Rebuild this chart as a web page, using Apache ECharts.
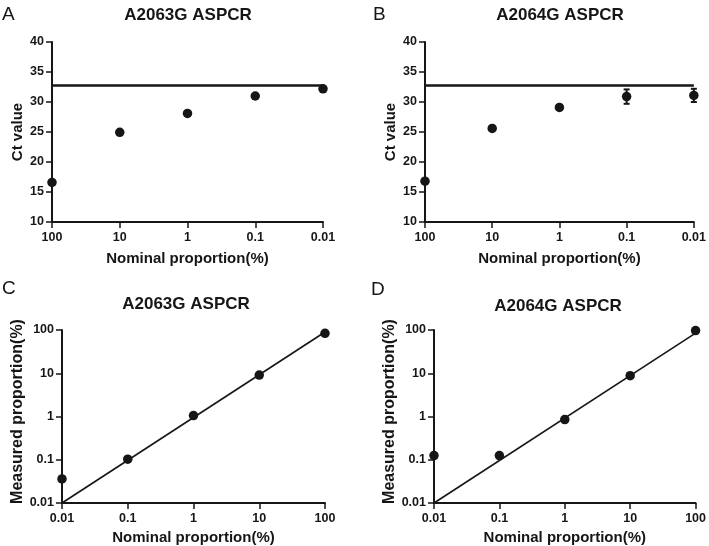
<!DOCTYPE html>
<html>
<head>
<meta charset="utf-8">
<script src="https://cdn.jsdelivr.net/npm/echarts@6/dist/echarts.min.js"></script>
<style>html,body{margin:0;padding:0;background:#fff}#c{width:709px;height:546px}</style>
</head>
<body>
<div id="c"></div>
<script>
// ---- data ----
var logTickLabels = ['0.01', '0.1', '1', '10', '100'];
var nominal = [100, 10, 1, 0.1, 0.01];
var ctA = [16.6, 24.95, 28.1, 31.0, 32.2];
var ctB = [16.8, 25.6, 29.1, 30.9, 31.1];
var ctBErr = [0, 0, 0, 1.2, 1.1];
var cutoffA = 32.75;
var cutoffB = 32.75;
var nominalC = [0.01, 0.1, 1, 10, 100];
var measuredC = [0.036, 0.103, 1.05, 9.1, 84];
var measuredD = [0.125, 0.125, 0.85, 8.8, 97];
var fitC = [[0.01, 0.01], [100, 90]];
var fitD = [[0.01, 0.01], [100, 85]];
var panelLetters = ['A', 'B', 'C', 'D'];
var panelTitles = ['A2063G ASPCR', 'A2064G ASPCR', 'A2063G ASPCR', 'A2064G ASPCR'];
var xName = 'Nominal proportion(%)';
var yNameTop = 'Ct value';
var yNameBottom = 'Measured proportion(%)';

var FONT = '"Liberation Sans", Arial, Helvetica, sans-serif';
var INK = '#161616';

function logFmt(v) { return logTickLabels[Math.round(Math.log10(v)) + 2]; }

function axisCommon() {
  return {
    axisLine: { show: true, lineStyle: { color: INK, width: 2 } },
    axisTick: { show: true, inside: false, length: 6, lineStyle: { color: INK, width: 1.5 } },
    splitLine: { show: false },
    nameTextStyle: { fontFamily: FONT, fontWeight: 'bold', fontSize: 15, color: INK },
    axisLabel: { fontFamily: FONT, fontWeight: 'bold', fontSize: 12.5, color: INK, margin: 8 }
  };
}
function merge(a, b) { for (var k in b) a[k] = b[k]; return a; }

function zip(xs, ys) { return xs.map(function (x, i) { return [x, ys[i]]; }); }

var grids = [
  { left: 52, top: 42, width: 271, height: 180 },
  { left: 425, top: 42, width: 272, height: 180 },
  { left: 62, top: 330, width: 263, height: 174 },
  { left: 434, top: 330, width: 263, height: 174 }
];

var xAxes = [], yAxes = [];
// top panels
[0, 1].forEach(function (i) {
  var xa = merge(axisCommon(), {
    type: 'log', logBase: 10, min: 0.01, max: 100, inverse: true, gridIndex: i,
    name: xName, nameLocation: 'middle', nameGap: 29
  });
  xa.axisLabel.formatter = logFmt;
  xa.axisLabel.margin = 9;
  xAxes.push(xa);
  var ya = merge(axisCommon(), {
    type: 'value', min: 10, max: 40, interval: 5, gridIndex: i,
    name: yNameTop, nameLocation: 'middle', nameGap: 27
  });
  yAxes.push(ya);
});
// bottom panels
[2, 3].forEach(function (i) {
  var xa = merge(axisCommon(), {
    type: 'log', logBase: 10, min: 0.01, max: 100, gridIndex: i,
    name: xName, nameLocation: 'middle', nameGap: 27
  });
  xa.axisLabel.formatter = logFmt;
  xa.axisLabel.margin = 9;
  xAxes.push(xa);
  var ya = merge(axisCommon(), {
    type: 'log', logBase: 10, min: 0.01, max: 100, gridIndex: i,
    name: yNameBottom, nameLocation: 'middle', nameGap: 36
  });
  ya.nameTextStyle.fontSize = 16;
  ya.nameTextStyle.padding = [0, 0, 0, 10];
  ya.axisLabel.formatter = logFmt;
  yAxes.push(ya);
});

var titlePos = [
  { x: 188, y: 7 }, { x: 560, y: 7 }, { x: 186, y: 296 }, { x: 558, y: 298 }
];
var letterPos = [
  { x: 2, y: 5 }, { x: 373, y: 5 }, { x: 2, y: 279 }, { x: 371, y: 280 }
];
var titles = [];
panelTitles.forEach(function (t, i) {
  titles.push({
    text: t, left: titlePos[i].x, top: titlePos[i].y, textAlign: 'center', padding: 0,
    textStyle: { fontFamily: FONT, fontWeight: 'bold', fontSize: 17, color: INK }
  });
  titles.push({
    text: panelLetters[i], left: letterPos[i].x, top: letterPos[i].y, padding: 0,
    textStyle: { fontFamily: FONT, fontWeight: 'normal', fontSize: 19, color: INK }
  });
});

function scatter(idx, data) {
  return {
    type: 'scatter', xAxisIndex: idx, yAxisIndex: idx, data: data,
    symbol: 'circle', symbolSize: 9.5, clip: false,
    itemStyle: { color: INK, opacity: 1 }, z: 5
  };
}
function line(idx, data, w) {
  return {
    type: 'line', xAxisIndex: idx, yAxisIndex: idx, data: data,
    showSymbol: false, symbol: 'none', clip: false,
    lineStyle: { color: INK, width: w }, z: 3
  };
}

var errData = [];
nominal.forEach(function (x, i) {
  if (ctBErr[i] > 0) errData.push([x, ctB[i] - ctBErr[i], ctB[i] + ctBErr[i]]);
});

var series = [
  line(0, [[nominal[0], cutoffA], [nominal[4], cutoffA]], 2.5),
  scatter(0, zip(nominal, ctA)),
  line(1, [[nominal[0], cutoffB], [nominal[4], cutoffB]], 2.5),
  scatter(1, zip(nominal, ctB)),
  {
    type: 'custom', xAxisIndex: 1, yAxisIndex: 1, data: errData, clip: false, z: 4,
    encode: { x: 0, y: [1, 2] },
    renderItem: function (params, api) {
      var x = api.value(0);
      var lo = api.coord([x, api.value(1)]);
      var hi = api.coord([x, api.value(2)]);
      var hw = 3;
      var st = { stroke: INK, lineWidth: 2 };
      return {
        type: 'group', children: [
          { type: 'line', shape: { x1: lo[0], y1: lo[1], x2: hi[0], y2: hi[1] }, style: st },
          { type: 'line', shape: { x1: lo[0] - hw, y1: lo[1], x2: lo[0] + hw, y2: lo[1] }, style: st },
          { type: 'line', shape: { x1: hi[0] - hw, y1: hi[1], x2: hi[0] + hw, y2: hi[1] }, style: st }
        ]
      };
    }
  },
  line(2, fitC, 1.6),
  scatter(2, zip(nominalC, measuredC)),
  line(3, fitD, 1.6),
  scatter(3, zip(nominalC, measuredD))
];

var chart = echarts.init(document.getElementById('c'), null, { renderer: 'canvas' });
chart.setOption({
  backgroundColor: '#fff',
  animation: false,
  title: titles,
  grid: grids,
  xAxis: xAxes,
  yAxis: yAxes,
  series: series
});
</script>
</body>
</html>
